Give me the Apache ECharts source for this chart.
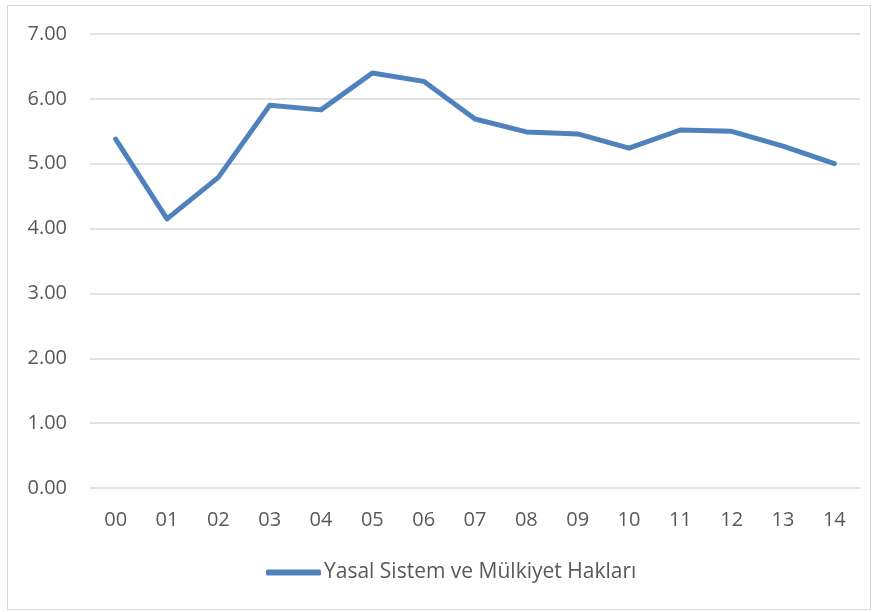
<!DOCTYPE html>
<html>
<head>
<meta charset="utf-8">
<script src="https://cdn.jsdelivr.net/npm/echarts@6/dist/echarts.min.js"></script>
<style>
  html, body { margin: 0; padding: 0; background: #fff; }
  #frame { position: absolute; left: 7px; top: 5px; width: 862px; height: 603px; border: 1px solid #d9d9d9; }
  #chart { position: absolute; left: 0; top: 0; width: 878px; height: 612px; }
</style>
</head>
<body>
<div id="frame"></div>
<div id="chart"></div>
<script>
const years = ['00', '01', '02', '03', '04', '05', '06', '07', '08', '09', '10', '11', '12', '13', '14']
const seriesName = 'Yasal Sistem ve Mülkiyet Hakları'
const values = [5.38, 4.15, 4.79, 5.90, 5.83, 6.40, 6.27, 5.69, 5.49, 5.46, 5.24, 5.52, 5.50, 5.27, 5.00]

const textColor = '#595959'
const fontFamily = '"Open Sans", "Liberation Sans", sans-serif'

const chart = echarts.init(document.getElementById('chart'))
chart.setOption({
  animation: false,
  textStyle: { fontFamily: fontFamily },
  grid: {
    left: 90,
    right: 18,
    top: 34,
    bottom: 124
  },
  legend: {
    top: 562,
    left: 266,
    padding: 0,
    icon: 'roundRect',
    itemWidth: 55,
    itemHeight: 6,
    textStyle: { color: textColor, fontSize: 21, fontFamily: fontFamily, padding: [0, 0, 0, -2] },
    data: [seriesName]
  },
  xAxis: {
    type: 'category',
    data: years,
    boundaryGap: true,
    axisLine: { show: false },
    axisTick: { show: false },
    axisLabel: { color: textColor, fontSize: 20, margin: 22 }
  },
  yAxis: {
    type: 'value',
    min: 0,
    max: 7,
    interval: 1,
    axisLine: { show: false },
    axisTick: { show: false },
    axisLabel: {
      color: textColor,
      fontSize: 20,
      margin: 23,
      formatter: v => v.toFixed(2)
    },
    splitLine: { lineStyle: { color: '#d9d9d9', width: 1.5 } }
  },
  series: [{
    name: seriesName,
    type: 'line',
    data: values,
    symbol: 'none',
    lineStyle: { color: '#4f81bd', width: 5, cap: 'round', join: 'round' },
    itemStyle: { color: '#4f81bd' }
  }]
})
</script>
</body>
</html>
